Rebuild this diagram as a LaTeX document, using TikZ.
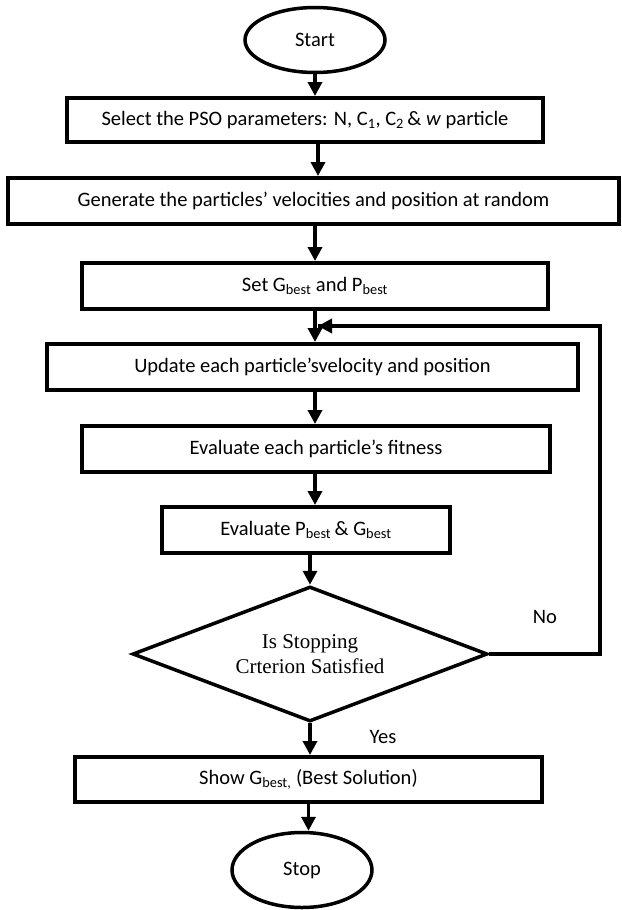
\documentclass[tikz,border=0pt]{standalone}
\usepackage{fontspec}
\setmainfont{Carlito}
\newfontfamily\tnr{Liberation Serif}
\usetikzlibrary{shapes.geometric,arrows.meta,calc}
\begin{document}
\begin{tikzpicture}[x=1pt,y=-1pt,
  every node/.style={font=\fontsize{20.5}{24}\selectfont},
  procbox/.style={draw,rectangle,line width=4pt,inner sep=0pt,align=center},
  term/.style={draw,ellipse,line width=3.5pt,inner sep=0pt},
  decis/.style={draw,diamond,shape aspect=2.63,line width=3.5pt,inner sep=0pt,align=center,
    font=\tnr\fontsize{21}{25}\selectfont},
  arr/.style={line width=3.5pt,-{Triangle[length=14pt,width=14pt]}},
  lbl/.style={inner sep=0pt}]
\useasboundingbox (0,0) rectangle (621,910);
\node[term,minimum width=140pt,minimum height=65pt] (start) at (315,40) {Start};
\node[procbox,minimum width=476pt,minimum height=44pt] (b1) at (305,120)
  {Select the PSO parameters: N, C\textsubscript{1}, C\textsubscript{2}\,\& \textit{w} particle};
\node[procbox,minimum width=611pt,minimum height=46pt] (b2) at (313.5,201)
  {Generate the particles’ velocities and position at random};
\node[procbox,minimum width=466pt,minimum height=46pt] (b3) at (315,286)
  {Set G\textsubscript{best} and P\textsubscript{best}};
\node[procbox,minimum width=531pt,minimum height=46pt] (b4) at (312.5,367)
  {Update each particle’svelocity and position};
\node[procbox,minimum width=468pt,minimum height=46pt] (b5) at (316,449)
  {Evaluate each particle’s fitness};
\node[procbox,minimum width=288pt,minimum height=46pt] (b6) at (306,530)
  {Evaluate P\textsubscript{best}\,\& G\textsubscript{best}};
\node[decis,minimum width=355pt,minimum height=135pt] (d) at (310,654)
  {Is Stopping\\Crterion Satisfied};
\node[procbox,minimum width=467pt,minimum height=45pt] (b7) at (308.5,779.5)
  {Show G\textsubscript{best,} (Best Solution)};
\node[term,minimum width=140pt,minimum height=75pt] (stop) at (302,870) {Stop};
\node[lbl] (no) at (545,617) {No};
\node[lbl] (yes) at (383,737) {Yes};
\coordinate (fbR) at (600,654);
\coordinate (fbT) at (600,326);
\coordinate (fbE) at (318,326);
\draw[arr] (start.south) -- (start.south |- b1.north);
\draw[arr] (318,0 |- b1.south) -- (318,0 |- b2.north);
\draw[arr] (start.south |- b2.south) -- (start.south |- b3.north);
\draw[arr] (start.south |- b3.south) -- (start.south |- b4.north);
\draw[arr] (start.south |- b4.south) -- (start.south |- b5.north);
\draw[arr] (start.south |- b5.south) -- (start.south |- b6.north);
\draw[arr] (d.north |- b6.south) -- (d.north);
\draw[arr] (d.south) -- (d.south |- b7.north);
\draw[arr] (b7.south) -- (b7.south |- stop.north);
\draw[line width=3.5pt] (d.east) -- (fbR) -- (fbT) -- (fbE);
\draw[arr] (fbT) -- (fbE);
\end{tikzpicture}
\end{document}
